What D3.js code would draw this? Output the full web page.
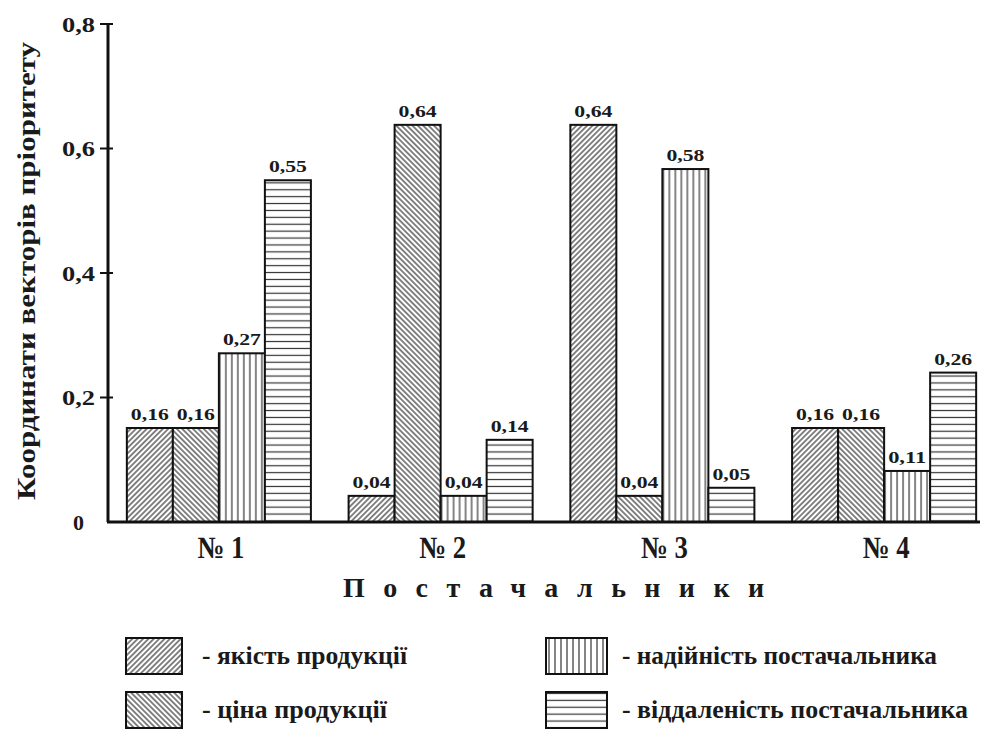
<!DOCTYPE html>
<html>
<head>
<meta charset="utf-8">
<script src="https://cdn.jsdelivr.net/npm/d3@7"></script>
<style>
  body { margin: 0; background: #fff; }
  svg { display: block; }
</style>
</head>
<body>
<svg></svg>
<script>
// suppliers and criteria
var suppliers = ["№ 1", "№ 2", "№ 3", "№ 4"];
var criteria = ["якість продукції", "ціна продукції", "надійність постачальника", "віддаленість постачальника"];
// bar heights as drawn, by supplier
var values = [
  [0.151, 0.151, 0.271, 0.549],
  [0.042, 0.638, 0.042, 0.132],
  [0.638, 0.042, 0.567, 0.055],
  [0.151, 0.151, 0.082, 0.240]
];
// printed labels above bars
var labels = [
  ["0,16", "0,16", "0,27", "0,55"],
  ["0,04", "0,64", "0,04", "0,14"],
  ["0,64", "0,04", "0,58", "0,05"],
  ["0,16", "0,16", "0,11", "0,26"]
];
var yTicks = [0, 0.2, 0.4, 0.6, 0.8];
var yTickLabels = ["0", "0,2", "0,4", "0,6", "0,8"];

var FONT = "Liberation Serif";

function txt(sel) {
  return sel.append("text")
    .style("font-family", FONT)
    .attr("font-weight", "bold")
    .attr("fill", "#1a1a1a");
}

function main() {
  var width = 982, height = 729;
  var svg = d3.select("svg").attr("width", width).attr("height", height);

  var defs = svg.append("defs");
  var pats = [
    { id: "p0", size: 3.8, rot: 45 },
    { id: "p1", size: 3.8, rot: -45 },
    { id: "p2", size: 6, rot: 0 },
    { id: "p3", size: 6.9, rot: 90 }
  ];
  pats.forEach(function(p) {
    var pt = defs.append("pattern")
      .attr("id", p.id)
      .attr("patternUnits", "userSpaceOnUse")
      .attr("width", p.size)
      .attr("height", p.size)
      .attr("patternTransform", "rotate(" + p.rot + ")");
    pt.append("rect").attr("width", p.size).attr("height", p.size).attr("fill", "#fff");
    pt.append("line")
      .attr("x1", p.size / 2).attr("x2", p.size / 2)
      .attr("y1", 0).attr("y2", p.size)
      .attr("stroke", "#333").attr("stroke-width", 1.2);
  });

  var x = d3.scaleBand().domain(suppliers).range([108, 995]).paddingInner(0.17).paddingOuter(0.085);
  var xs = d3.scaleBand().domain(d3.range(criteria.length)).range([0, x.bandwidth()]);
  var y = d3.scaleLinear().domain([0, 0.8]).range([522, 24]);

  var groups = svg.selectAll(".grp")
    .data(values)
    .enter().append("g")
    .attr("class", "grp")
    .attr("transform", function(d, i) { return "translate(" + x(suppliers[i]) + ",0)"; });

  groups.selectAll("rect")
    .data(function(d) { return d; })
    .enter().append("rect")
    .attr("x", function(d, j) { return xs(j); })
    .attr("y", function(d) { return y(d); })
    .attr("width", xs.bandwidth())
    .attr("height", function(d) { return y(0) - y(d); })
    .attr("fill", function(d, j) { return "url(#p" + j + ")"; })
    .attr("stroke", "#111")
    .attr("stroke-width", 2);

  groups.each(function(d, i) {
    var g = d3.select(this);
    d.forEach(function(v, j) {
      txt(g)
        .attr("x", xs(j) + xs.bandwidth() / 2)
        .attr("y", y(v) - 8)
        .attr("text-anchor", "middle")
        .attr("font-size", 17)
        .attr("textLength", 38)
        .attr("lengthAdjust", "spacingAndGlyphs")
        .text(labels[i][j]);
    });
  });

  // y axis
  svg.append("line")
    .attr("x1", 108).attr("x2", 108)
    .attr("y1", y(0.8)).attr("y2", y(0))
    .attr("stroke", "#111").attr("stroke-width", 3);
  yTicks.slice(1).forEach(function(t) {
    svg.append("line")
      .attr("x1", 100).attr("x2", 113)
      .attr("y1", y(t)).attr("y2", y(t))
      .attr("stroke", "#111").attr("stroke-width", 2);
  });
  yTicks.forEach(function(t, i) {
    var s = txt(svg)
      .attr("x", 78.5)
      .attr("y", y(t) + 7.5)
      .attr("text-anchor", "middle")
      .attr("font-size", 22)
      .text(yTickLabels[i]);
    if (yTickLabels[i].length > 1) s.attr("textLength", 33).attr("lengthAdjust", "spacingAndGlyphs");
  });

  // x axis
  svg.append("line")
    .attr("x1", 107).attr("x2", 980)
    .attr("y1", y(0)).attr("y2", y(0))
    .attr("stroke", "#111").attr("stroke-width", 3);

  suppliers.forEach(function(s) {
    txt(svg)
      .attr("x", x(s) + x.bandwidth() / 2 + 2)
      .attr("y", 558)
      .attr("text-anchor", "middle")
      .attr("font-size", 31)
      .attr("textLength", 47)
      .attr("lengthAdjust", "spacingAndGlyphs")
      .text(s);
  });

  txt(svg)
    .attr("x", 343)
    .attr("y", 597)
    .attr("font-size", 28)
    .attr("letter-spacing", 18.4)
    .text("Постачальники");

  txt(svg)
    .attr("transform", "translate(35,271) rotate(-90)")
    .attr("text-anchor", "middle")
    .attr("font-size", 26)
    .attr("textLength", 458)
    .attr("lengthAdjust", "spacingAndGlyphs")
    .text("Координати векторів пріоритету");

  // legend
  var legendBox = [[126, 638, 56], [126, 692, 56], [546, 638, 61], [546, 692, 61]];
  var legendText = [[202, 205], [202, 185], [622, 315], [622, 346]];
  criteria.forEach(function(c, i) {
    svg.append("rect")
      .attr("x", legendBox[i][0]).attr("y", legendBox[i][1])
      .attr("width", legendBox[i][2]).attr("height", 36)
      .attr("fill", "url(#p" + i + ")")
      .attr("stroke", "#111").attr("stroke-width", 2);
    txt(svg)
      .attr("x", legendText[i][0])
      .attr("y", legendBox[i][1] + 26)
      .attr("font-size", 25)
      .attr("textLength", legendText[i][1])
      .attr("lengthAdjust", "spacingAndGlyphs")
      .text("- " + c);
  });
}

main();
</script>
</body>
</html>
